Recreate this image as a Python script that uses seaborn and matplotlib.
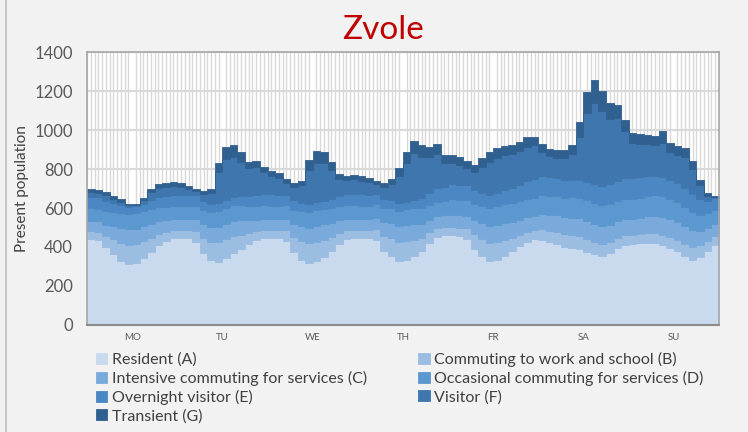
import numpy as np
import matplotlib.pyplot as plt
import seaborn as sns
from matplotlib.patches import Rectangle

# Present population, two-hour bins from Monday 00:00 to Sunday 24:00
days = ['MO', 'TU', 'WE', 'TH', 'FR', 'SA', 'SU']
bin_hours = 2

resident = [
    440, 435, 400, 362, 328, 312, 318, 342, 376, 410, 433, 446,
    446, 446, 428, 368, 332, 325, 342, 368, 392, 415, 435, 445,
    446, 446, 430, 372, 335, 318, 330, 350, 380, 415, 440, 446,
    446, 446, 435, 380, 352, 328, 335, 352, 378, 420, 452, 462,
    462, 458, 440, 390, 352, 328, 335, 355, 380, 405, 428, 440,
    435, 425, 415, 400, 395, 390, 375, 365, 355, 370, 395, 412,
    415, 420, 422, 420, 410, 395, 378, 355, 335, 350, 380, 412,
]
commuting_work_school = [
    40, 42, 55, 78, 93, 100, 98, 88, 72, 56, 46, 42,
    40, 42, 56, 80, 95, 100, 98, 88, 72, 56, 46, 42,
    40, 42, 56, 80, 95, 100, 98, 88, 72, 56, 46, 42,
    40, 42, 55, 78, 93, 98, 96, 86, 70, 55, 45, 42,
    42, 42, 55, 75, 90, 95, 92, 82, 68, 55, 48, 45,
    55, 58, 62, 65, 65, 65, 65, 62, 60, 55, 50, 48,
    45, 45, 48, 50, 52, 55, 58, 62, 65, 58, 50, 45,
]
intensive_services = [
    55, 55, 60, 68, 75, 78, 78, 76, 72, 66, 60, 57,
    57, 56, 60, 68, 76, 80, 80, 78, 72, 66, 60, 58,
    58, 57, 60, 68, 76, 80, 80, 78, 72, 66, 60, 58,
    58, 57, 60, 68, 76, 80, 80, 78, 72, 66, 62, 60,
    62, 62, 64, 72, 80, 85, 86, 85, 82, 80, 78, 76,
    80, 82, 85, 88, 90, 92, 92, 92, 92, 90, 88, 86,
    86, 86, 88, 90, 92, 92, 92, 90, 86, 76, 68, 62,
]
occasional_services = [
    65, 65, 68, 72, 76, 78, 78, 77, 75, 72, 68, 66,
    66, 66, 68, 72, 78, 80, 82, 80, 78, 74, 70, 68,
    68, 67, 68, 72, 78, 80, 82, 80, 78, 74, 70, 68,
    68, 67, 68, 72, 78, 80, 82, 82, 80, 76, 72, 70,
    78, 78, 80, 84, 88, 92, 95, 96, 95, 94, 92, 92,
    95, 96, 98, 100, 104, 106, 108, 108, 108, 106, 104, 102,
    102, 102, 104, 105, 106, 106, 104, 100, 92, 82, 74, 70,
]
overnight_visitor = [
    58, 58, 54, 48, 42, 38, 38, 40, 45, 52, 56, 58,
    58, 57, 54, 48, 42, 40, 40, 42, 46, 52, 56, 58,
    58, 57, 54, 48, 42, 40, 40, 42, 46, 52, 56, 58,
    58, 57, 54, 48, 42, 40, 40, 42, 50, 62, 72, 75,
    80, 80, 78, 72, 66, 65, 68, 72, 78, 85, 92, 96,
    98, 96, 94, 92, 90, 90, 92, 95, 98, 100, 102, 104,
    105, 104, 102, 100, 98, 98, 98, 96, 92, 80, 66, 62,
]
visitor = [
    24, 22, 28, 20, 19, 8, 4, 17, 42, 46, 47, 46,
    43, 32, 22, 37, 54, 160, 208, 204, 175, 140, 141, 113,
    95, 87, 62, 70, 92, 177, 200, 192, 147, 87, 70, 76,
    70, 63, 50, 64, 82, 139, 197, 240, 212, 184, 175, 121,
    108, 102, 90, 90, 134, 170, 182, 180, 174, 173, 176, 172,
    122, 108, 104, 111, 133, 222, 353, 416, 382, 334, 321, 243,
    182, 173, 163, 158, 177, 141, 143, 159, 130, 71, 23, 3,
]
transient = [
    15, 15, 15, 12, 12, 8, 4, 10, 18, 20, 20, 20,
    18, 16, 12, 15, 18, 45, 65, 62, 50, 35, 32, 28,
    25, 22, 18, 18, 22, 50, 60, 55, 40, 25, 20, 22,
    22, 20, 18, 20, 25, 40, 55, 65, 60, 52, 50, 40,
    40, 38, 35, 35, 45, 50, 52, 50, 48, 48, 48, 45,
    45, 40, 40, 42, 48, 75, 110, 120, 105, 85, 70, 55,
    50, 48, 45, 45, 60, 48, 45, 48, 40, 28, 14, 8,
]

labels = [
    'Resident (A)',
    'Commuting to work and school (B)',
    'Intensive commuting for services (C)',
    'Occasional commuting for services (D)',
    'Overnight visitor (E)',
    'Visitor (F)',
    'Transient (G)',
]
colors = ['#c9d9ee', '#9cbde2', '#7aaadb', '#5b98d0', '#4b88c3', '#3f76ae', '#30608f']

series = [resident, commuting_work_school, intensive_services,
          occasional_services, overnight_visitor, visitor, transient]

sns.set_theme(style='white')
plt.rcParams['font.family'] = ['Lato', 'DejaVu Sans']

fig = plt.figure(figsize=(7.48, 4.32), dpi=100, facecolor='#f2f2f2')
ax = fig.add_axes([0.1163, 0.2477, 0.8447, 0.6319])
ax.set_facecolor('white')

# step edges (last value held until end of week)
edges = np.arange(0, len(resident) * bin_hours + 1, bin_hours)
stack_vals = [np.append(s, s[-1]) for s in series]
polys = ax.stackplot(edges, stack_vals, colors=colors, labels=labels,
                     step='post', linewidth=0.6, edgecolor='face')
for p in polys:
    p.set_antialiased(False)
    p.set_zorder(3)

ax.set_xlim(0, 168)
ax.set_ylim(0, 1400)
ax.set_yticks(range(0, 1401, 200))
ax.set_xticks(np.arange(12, 168, 24))
ax.set_xticklabels(days)
ax.set_xticks(np.arange(0, 169, 1), minor=True)

ax.set_axisbelow(True)
ax.grid(which='minor', axis='x', color='#d9d9d9', linewidth=1.0)
ax.grid(which='major', axis='y', color='#d9d9d9', linewidth=1.5)

ax.tick_params(axis='y', length=0, pad=10, labelsize=12, labelcolor='#595959')
ax.tick_params(axis='x', which='both', length=0, pad=6, labelsize=7, labelcolor='#595959')

for side in ['top', 'right', 'left']:
    ax.spines[side].set_color('#a6a6a6')
    ax.spines[side].set_linewidth(1.2)
ax.spines['bottom'].set_color('#8c8c8c')
ax.spines['bottom'].set_linewidth(1.5)
for sp in ax.spines.values():
    sp.set_zorder(4)

ax.set_ylabel('Present population', fontsize=11, color='#404040', labelpad=4)

fig.text(0.512, 0.93, 'Zvole', color='#c00000', fontsize=24,
         ha='center', va='center')

# legend in row order A B / C D / E F / G
handles, lbls = ax.get_legend_handles_labels()
order = [0, 2, 4, 6, 1, 3, 5]
fig.legend([handles[i] for i in order], [lbls[i] for i in order],
           loc='upper left', bbox_to_anchor=(0.118, 0.204), ncol=2,
           frameon=False, fontsize=11.5, labelcolor='#404040',
           handlelength=0.7, handleheight=0.7, handletextpad=0.3,
           columnspacing=3.2, labelspacing=0.25, borderpad=0)

fig.patches.append(Rectangle((6 / 748, -0.01), 1.0, 1.02, transform=fig.transFigure,
                             fill=False, edgecolor='#bfbfbf', linewidth=1.2))

fig.savefig('out.png', dpi=100, facecolor=fig.get_facecolor())
